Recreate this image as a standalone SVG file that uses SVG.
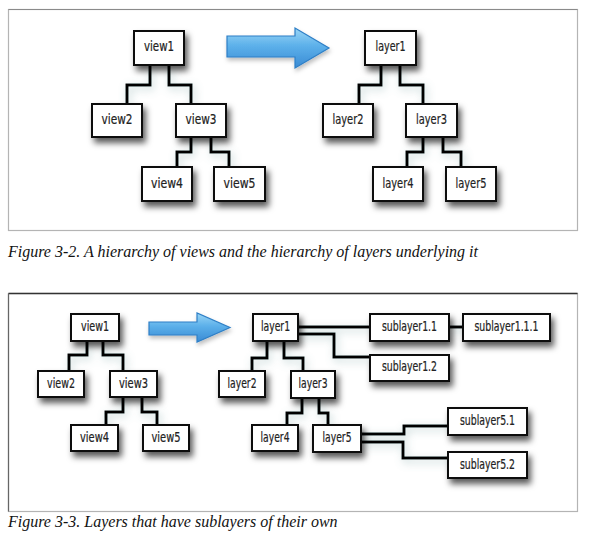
<svg xmlns="http://www.w3.org/2000/svg" width="590" height="550" viewBox="0 0 590 550">
<defs>
<filter id="sh" x="-30%" y="-40%" width="160%" height="200%">
<feDropShadow dx="3" dy="5" stdDeviation="3" flood-color="#000" flood-opacity="0.65"/>
</filter>
<filter id="glow" x="-30%" y="-30%" width="160%" height="160%">
<feDropShadow dx="2" dy="3" stdDeviation="4" flood-color="#6f9a9a" flood-opacity="0.45"/>
</filter>
<filter id="ash" x="-20%" y="-30%" width="140%" height="170%">
<feDropShadow dx="1" dy="3" stdDeviation="2" flood-color="#000" flood-opacity="0.25"/>
</filter>
<linearGradient id="blue" x1="0" y1="0" x2="0" y2="1">
<stop offset="0" stop-color="#9ad6f6"/>
<stop offset="0.45" stop-color="#5cb0ea"/>
<stop offset="1" stop-color="#3a8bd4"/>
</linearGradient>
</defs>
<style>
.frame{fill:#fff;stroke:#b4b4b4;stroke-width:1.2}
.box rect{fill:#fff;stroke:#111;stroke-width:2;filter:url(#sh)}
.box text{font-family:"DejaVu Sans Condensed","DejaVu Sans",sans-serif;font-stretch:condensed;fill:#222;text-anchor:middle;stroke:#222;stroke-width:0.2}
.big text{font-size:14px}
.small text{font-size:13.5px}
.conn path{fill:none;stroke:#000;stroke-width:3;stroke-linejoin:miter;stroke-linecap:butt}
.conn{filter:url(#glow)}
.arrow{fill:url(#blue);stroke:#2e7fc6;stroke-width:1.2;filter:url(#ash)}
.cap{font-family:"Liberation Serif",serif;font-style:italic;font-size:16px;fill:#111}
</style>
<rect width="590" height="550" fill="#fff"/>
<!-- frames -->
<rect class="frame" x="8.5" y="9.5" width="569" height="221"/>
<line x1="8.5" y1="9.5" x2="577.5" y2="9.5" stroke="#8a8a8a" stroke-width="1.2"/>
<rect class="frame" x="8.5" y="293.5" width="569" height="218"/>
<line x1="8.5" y1="293.5" x2="577.5" y2="293.5" stroke="#333" stroke-width="1.5"/>
<line x1="8.5" y1="293.5" x2="8.5" y2="511.5" stroke="#666" stroke-width="1.2"/>

<!-- arrows -->
<polygon id="arrow1" class="arrow" points="227,36 295,36 295,28 329,48 295,68 295,57 227,57"/>
<polygon id="arrow2" class="arrow" points="149,322 197,322 197,313 230,327.5 197,342 197,335 149,335"/>

<!-- connectors -->
<g id="connectors" class="conn">
<path d="M150 65 V85 H127 V104"/>
<path d="M169 65 V85 H191 V104"/>
<path d="M191 137 V152 H177 V167"/>
<path d="M211 137 V152 H229 V167"/>
<path d="M381 65 V85 H359 V104"/>
<path d="M400 65 V85 H423 V104"/>
<path d="M423 137 V152 H407 V167"/>
<path d="M443 137 V152 H461 V167"/>
<path d="M87 341 V355 H69 V371"/>
<path d="M103 341 V355 H123 V371"/>
<path d="M123 397 V412 H106 V425"/>
<path d="M142 397 V412 H157 V425"/>
<path d="M267 341 V358 H252 V371"/>
<path d="M284 341 V358 H303 V371"/>
<path d="M302 398 V413 H287 V425"/>
<path d="M319 398 V413 H328 V425"/>
<path d="M298 327 H370"/>
<path d="M298 334 H334 V357 H370"/>
<path d="M449 327 H463"/>
<path d="M361 434 H404 V426 H448"/>
<path d="M361 442 H403 V458 H448"/>
</g>

<!-- top nodes -->
<g id="t-view1" class="box big"><rect x="134" y="31" width="50" height="34"/><text x="159" y="51" textLength="30" lengthAdjust="spacingAndGlyphs">view1</text></g>
<g id="t-view2" class="box big"><rect x="92" y="104" width="50" height="33"/><text x="117" y="124" textLength="31" lengthAdjust="spacingAndGlyphs">view2</text></g>
<g id="t-view3" class="box big"><rect x="176" y="104" width="50" height="33"/><text x="201" y="124" textLength="31" lengthAdjust="spacingAndGlyphs">view3</text></g>
<g id="t-view4" class="box big"><rect x="142" y="167" width="50" height="34"/><text x="167" y="188" textLength="32" lengthAdjust="spacingAndGlyphs">view4</text></g>
<g id="t-view5" class="box big"><rect x="214" y="167" width="51" height="34"/><text x="239.5" y="188" textLength="32" lengthAdjust="spacingAndGlyphs">view5</text></g>
<g id="t-layer1" class="box big"><rect x="365" y="31" width="51" height="34"/><text x="390.5" y="51" textLength="30" lengthAdjust="spacingAndGlyphs">layer1</text></g>
<g id="t-layer2" class="box big"><rect x="323" y="104" width="50" height="33"/><text x="348" y="124" textLength="31" lengthAdjust="spacingAndGlyphs">layer2</text></g>
<g id="t-layer3" class="box big"><rect x="406" y="104" width="51" height="33"/><text x="431.5" y="124" textLength="31" lengthAdjust="spacingAndGlyphs">layer3</text></g>
<g id="t-layer4" class="box big"><rect x="373" y="167" width="50" height="34"/><text x="398" y="188" textLength="31" lengthAdjust="spacingAndGlyphs">layer4</text></g>
<g id="t-layer5" class="box big"><rect x="446" y="167" width="50" height="34"/><text x="471" y="188" textLength="31" lengthAdjust="spacingAndGlyphs">layer5</text></g>

<!-- bottom nodes -->
<g id="b-view1" class="box small"><rect x="71" y="314" width="48" height="27"/><text x="95" y="331" textLength="28" lengthAdjust="spacingAndGlyphs">view1</text></g>
<g id="b-view2" class="box small"><rect x="38" y="371" width="46" height="26"/><text x="61" y="388" textLength="28" lengthAdjust="spacingAndGlyphs">view2</text></g>
<g id="b-view3" class="box small"><rect x="110" y="371" width="47" height="26"/><text x="133.5" y="388" textLength="29" lengthAdjust="spacingAndGlyphs">view3</text></g>
<g id="b-view4" class="box small"><rect x="71" y="425" width="47" height="26"/><text x="94.5" y="442" textLength="29" lengthAdjust="spacingAndGlyphs">view4</text></g>
<g id="b-view5" class="box small"><rect x="143" y="425" width="46" height="26"/><text x="166" y="442" textLength="29" lengthAdjust="spacingAndGlyphs">view5</text></g>
<g id="b-layer1" class="box small"><rect x="253" y="314" width="45" height="27"/><text x="275.5" y="331" textLength="29" lengthAdjust="spacingAndGlyphs">layer1</text></g>
<g id="b-layer2" class="box small"><rect x="219" y="371" width="46" height="26"/><text x="242" y="388" textLength="29" lengthAdjust="spacingAndGlyphs">layer2</text></g>
<g id="b-layer3" class="box small"><rect x="291" y="371" width="44" height="27"/><text x="313" y="388" textLength="29" lengthAdjust="spacingAndGlyphs">layer3</text></g>
<g id="b-layer4" class="box small"><rect x="252" y="425" width="46" height="26"/><text x="275" y="442" textLength="29" lengthAdjust="spacingAndGlyphs">layer4</text></g>
<g id="b-layer5" class="box small"><rect x="313" y="425" width="48" height="27"/><text x="337" y="442" textLength="29" lengthAdjust="spacingAndGlyphs">layer5</text></g>
<g id="b-sub11" class="box small"><rect x="370" y="314" width="79" height="27"/><text x="409.5" y="331" textLength="55" lengthAdjust="spacingAndGlyphs">sublayer1.1</text></g>
<g id="b-sub111" class="box small"><rect x="463" y="314" width="87" height="27"/><text x="506.5" y="331" textLength="64" lengthAdjust="spacingAndGlyphs">sublayer1.1.1</text></g>
<g id="b-sub12" class="box small"><rect x="370" y="355" width="79" height="26"/><text x="409.5" y="371" textLength="55" lengthAdjust="spacingAndGlyphs">sublayer1.2</text></g>
<g id="b-sub51" class="box small"><rect x="448" y="408" width="79" height="27"/><text x="487.5" y="425" textLength="55" lengthAdjust="spacingAndGlyphs">sublayer5.1</text></g>
<g id="b-sub52" class="box small"><rect x="448" y="452" width="79" height="26"/><text x="487.5" y="469" textLength="55" lengthAdjust="spacingAndGlyphs">sublayer5.2</text></g>

<!-- captions -->
<text class="cap" x="8" y="257">Figure 3-2. A hierarchy of views and the hierarchy of layers underlying it</text>
<text class="cap" x="8" y="527">Figure 3-3. Layers that have sublayers of their own</text>
</svg>
